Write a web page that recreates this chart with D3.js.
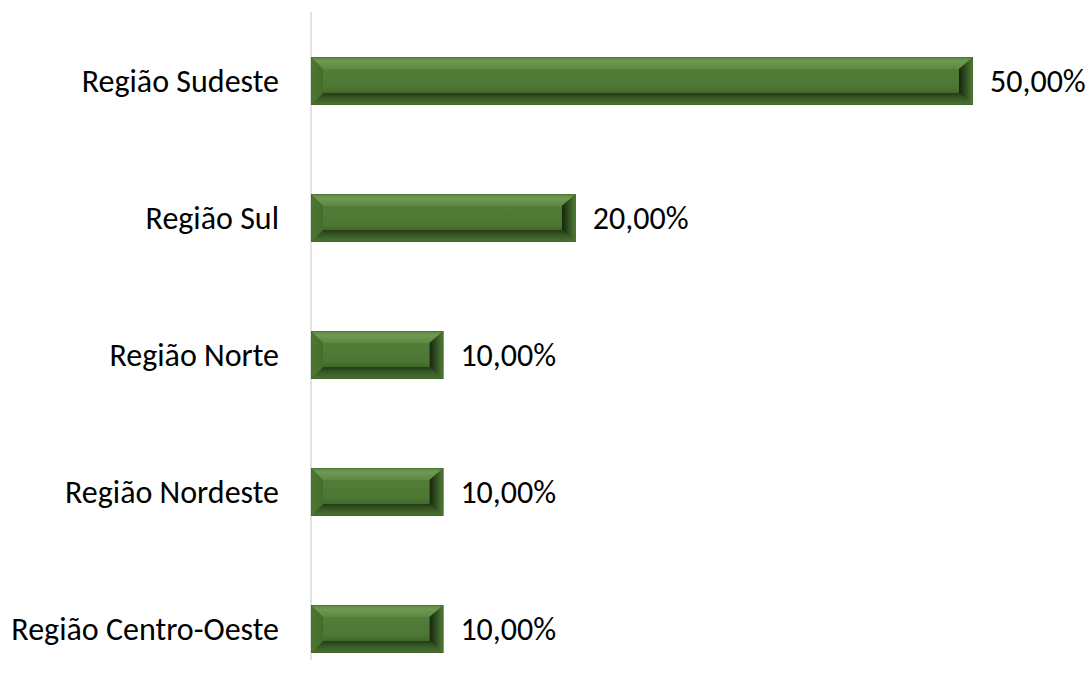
<!DOCTYPE html>
<html>
<head>
<meta charset="utf-8">
<script src="https://cdn.jsdelivr.net/npm/d3@7"></script>
<style>
  html, body { margin: 0; padding: 0; background: #ffffff; }
  svg { display: block; }
  text { font-family: Carlito, Calibri, "Open Sans", sans-serif; fill: #000; }
</style>
</head>
<body>
<svg id="chart" width="1089" height="689"></svg>
<script>
// Share of respondents by region
const regions = ["Região Sudeste", "Região Sul", "Região Norte", "Região Nordeste", "Região Centro-Oeste"];
const shares = [50, 20, 10, 10, 10];

const width = 1089, height = 689;
const svg = d3.select("#chart");

const x = d3.scaleLinear().domain([0, 50]).range([311, 973]);
const y = d3.scaleBand().domain(regions).range([12.5, 697.5]).paddingInner(0.65).paddingOuter(0.325);

const fmt = v => d3.format(".2f")(v).replace(".", ",") + "%";

// gradients for the bevelled bars
const defs = svg.append("defs");
function grad(id, x1, y1, x2, y2, stops) {
  const g = defs.append("linearGradient").attr("id", id)
    .attr("x1", x1).attr("y1", y1).attr("x2", x2).attr("y2", y2);
  stops.forEach(s => g.append("stop").attr("offset", s[0]).attr("stop-color", s[1]));
}
grad("bevTop", 0, 0, 0, 1, [[0, "#5c873f"], [0.35, "#6e9953"], [1, "#5d8842"]]);
grad("bevBottom", 0, 0, 0, 1, [[0, "#243a17"], [0.45, "#385a25"], [1, "#4b7432"]]);
grad("bevLeft", 0, 0, 1, 0, [[0, "#4d7833"], [1, "#446d2c"]]);
grad("bevRight", 0, 0, 1, 0, [[0, "#16250d"], [0.45, "#2f4b1f"], [1, "#527d37"]]);
grad("face", 0, 0, 0, 1, [[0, "#517d37"], [0.75, "#4d7834"], [1, "#41672a"]]);

// axis line
svg.append("line")
  .attr("x1", x(0)).attr("x2", x(0))
  .attr("y1", 12).attr("y2", 660)
  .attr("stroke", "#d9d9d9").attr("stroke-width", 1.5);

const bev = 12;
const bars = svg.append("g").selectAll("g").data(regions).join("g");

bars.each(function(r, i) {
  const g = d3.select(this);
  const x0 = x(0), x1 = x(shares[i]);
  const y0 = y(r), y1 = y(r) + y.bandwidth();
  const ix0 = x0 + bev, ix1 = x1 - bev - 2, iy0 = y0 + bev, iy1 = y1 - bev;
  const poly = pts => pts.map(p => p.join(",")).join(" ");
  g.append("rect").attr("x", x0).attr("y", y0).attr("width", x1 - x0).attr("height", y1 - y0)
    .attr("fill", "#4f7a35");
  g.append("polygon").attr("points", poly([[x0, y0], [x1, y0], [ix1, iy0], [ix0, iy0]])).attr("fill", "url(#bevTop)");
  g.append("polygon").attr("points", poly([[x0, y1], [x1, y1], [ix1, iy1], [ix0, iy1]])).attr("fill", "url(#bevBottom)");
  g.append("polygon").attr("points", poly([[x0, y0], [ix0, iy0], [ix0, iy1], [x0, y1]])).attr("fill", "url(#bevLeft)");
  g.append("polygon").attr("points", poly([[x1, y0], [ix1, iy0], [ix1, iy1], [x1, y1]])).attr("fill", "url(#bevRight)");
  g.append("rect").attr("x", ix0).attr("y", iy0).attr("width", ix1 - ix0).attr("height", iy1 - iy0)
    .attr("fill", "url(#face)");
  g.append("rect").attr("x", x0 + 0.5).attr("y", y0 + 0.5).attr("width", x1 - x0 - 1).attr("height", y1 - y0 - 1)
    .attr("fill", "none").attr("stroke", "#3e6128").attr("stroke-width", 1).attr("stroke-opacity", 0.5);
});

// category labels
svg.append("g").selectAll("text").data(regions).join("text")
  .attr("x", 279)
  .attr("y", d => y(d) + y.bandwidth() / 2)
  .attr("text-anchor", "end")
  .attr("dominant-baseline", "central")
  .attr("font-size", 32)
  .text(d => d);

// value labels
svg.append("g").selectAll("text").data(regions).join("text")
  .attr("x", (d, i) => x(shares[i]) + 17)
  .attr("y", d => y(d) + y.bandwidth() / 2)
  .attr("dominant-baseline", "central")
  .attr("font-size", 32)
  .text((d, i) => fmt(shares[i]));
</script>
</body>
</html>
